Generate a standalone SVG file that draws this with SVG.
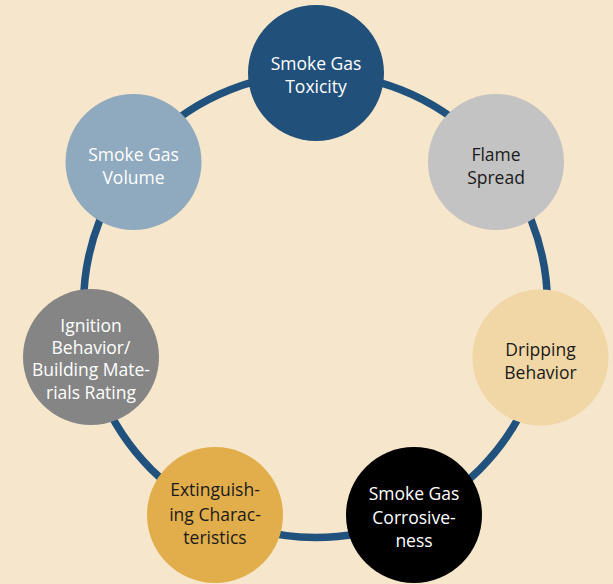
<svg xmlns="http://www.w3.org/2000/svg" width="613" height="584" viewBox="0 0 613 584">
<style>
.n text{font-family:"Open Sans","Noto Sans","Liberation Sans",sans-serif;font-size:17.5px;text-anchor:middle}
.w{fill:#ffffff}
.k{fill:#1a1a1a}
</style>
<rect width="613" height="584" fill="#f6e6cb"/>
<g id="connectors">
<circle cx="315.5" cy="305.5" r="232" fill="none" stroke="#21527e" stroke-width="7.5"/>
</g>
<g id="n1" class="n">
<circle cx="316" cy="73" r="68" fill="#21507a"/>
<text class="w" x="316" y="70">Smoke Gas</text>
<text class="w" x="316" y="93">Toxicity</text>
</g>
<g id="n2" class="n">
<circle cx="496" cy="162" r="68" fill="#c3c3c3"/>
<text class="k" x="496" y="161">Flame</text>
<text class="k" x="496" y="184">Spread</text>
</g>
<g id="n3" class="n">
<circle cx="540.5" cy="357.5" r="68" fill="#f1d6a6"/>
<text class="k" x="540.5" y="356">Dripping</text>
<text class="k" x="540.5" y="379">Behavior</text>
</g>
<g id="n4" class="n">
<circle cx="414" cy="515" r="68" fill="#000000"/>
<text class="w" x="414" y="500">Smoke Gas</text>
<text class="w" x="414" y="524">Corrosive-</text>
<text class="w" x="414" y="547">ness</text>
</g>
<g id="n5" class="n">
<circle cx="215" cy="515" r="68" fill="#e2ae4c"/>
<text class="k" x="215" y="496">Extinguish-</text>
<text class="k" x="215" y="521">ing Charac-</text>
<text class="k" x="215" y="544">teristics</text>
</g>
<g id="n6" class="n">
<circle cx="91" cy="357" r="68" fill="#858585"/>
<text class="w" x="91" y="332">Ignition</text>
<text class="w" x="91" y="354">Behavior/</text>
<text class="w" x="91" y="376">Building Mate-</text>
<text class="w" x="91" y="399">rials Rating</text>
</g>
<g id="n7" class="n">
<circle cx="133.5" cy="162" r="68" fill="#8fa9be"/>
<text class="w" x="133.5" y="161">Smoke Gas</text>
<text class="w" x="133.5" y="184">Volume</text>
</g>
</svg>
